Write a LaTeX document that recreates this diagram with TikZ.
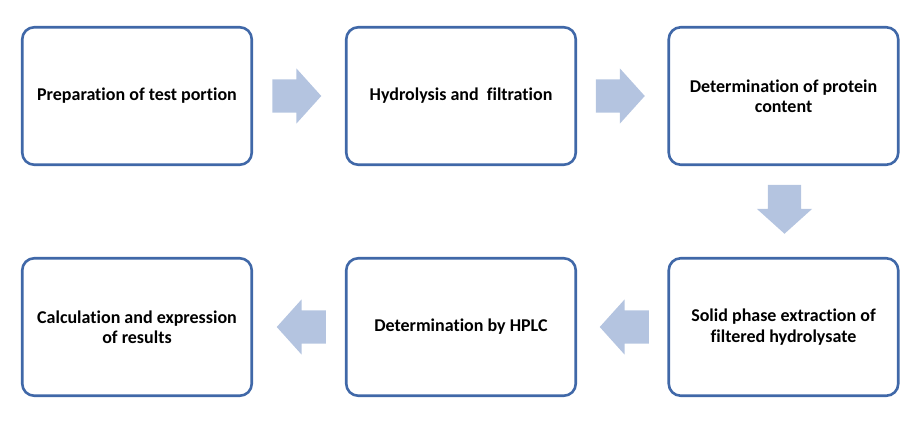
\documentclass[tikz,border=0pt]{standalone}
\usepackage{fontspec}
\setmainfont{Carlito}[Ligatures=NoCommon]
\usetikzlibrary{positioning, calc, shapes.arrows}
\definecolor{boxline}{RGB}{64,104,168}
\definecolor{arrowfill}{RGB}{180,196,224}

\tikzset{
  stepbox/.style={draw=boxline, line width=2.6pt, rounded corners=12pt, fill=white,
    minimum width=229.5pt, minimum height=137.5pt, align=center, font=\fontsize{18}{20.5}\selectfont\bfseries},
  blockarrow/.style={single arrow, fill=arrowfill, draw=none, inner xsep=0pt, inner ysep=16.5pt,
    minimum height=49pt, minimum width=55pt, single arrow head extend=11pt, single arrow tip angle=96,
    anchor=tail},
  downarrow/.style={blockarrow, inner xsep=16.5pt, inner ysep=0pt, shape border rotate=270}
}

\begin{document}
\begin{tikzpicture}[x=1pt, y=-1pt]
			% Frame
			\useasboundingbox (0,0) rectangle (917,426);
			% Top row
			\node[stepbox] (prep) at (137,96) {Preparation of test portion};
			\node[stepbox] (hydro) at ($(prep)+(324,0)$) {Hydrolysis and~ filtration};
			\node[stepbox] (protein) at ($(hydro)+(322.5,0)$) {Determination of protein\\content};
			% Bottom row
			\node[stepbox] (spe) at ($(protein)+(0,231)$) {Solid phase extraction of\\filtered hydrolysate};
			\node[stepbox] (hplc) at ($(hydro)+(0,231)$) {Determination by HPLC};
			\node[stepbox] (calc) at ($(prep)+(0,231)$) {Calculation and expression\\of results};
			% Block arrows
			\node[blockarrow] (a1) at ($(prep.east)+(19,0)$) {};
			\node[blockarrow] (a2) at ($(hydro.east)+(18.5,0)$) {};
			\node[downarrow] (a3) at ($(protein.south)+(1,18.5)$) {};
			\node[blockarrow, shape border rotate=180] (a4) at ($(spe.west)+(-18.5,0)$) {};
			\node[blockarrow, shape border rotate=180] (a5) at ($(hplc.west)+(-19,0)$) {};
		\end{tikzpicture}
\end{document}
